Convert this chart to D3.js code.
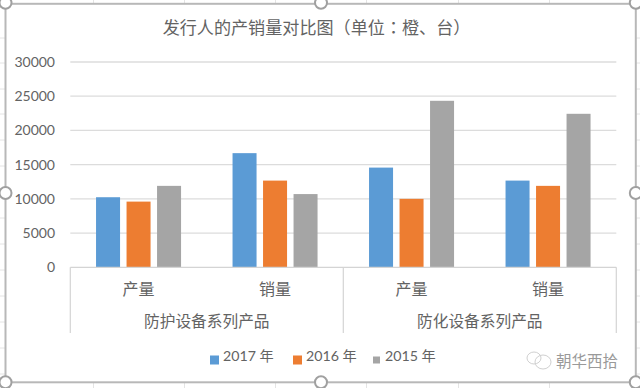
<!DOCTYPE html>
<html><head><meta charset="utf-8">
<script src="https://cdn.jsdelivr.net/npm/d3@7/dist/d3.min.js"></script>
<style>
html,body{margin:0;padding:0;background:#fff;overflow:hidden}
svg{display:block}
text{font-family:Lato,"Noto Sans CJK SC",sans-serif;fill:#636363}
</style></head><body>
<svg id="c" width="640" height="388"></svg>
<script>
const groups = ["防护设备系列产品","防化设备系列产品"];
const measures = ["产量","销量"];
const series = ["2017 年","2016 年","2015 年"];
const colors = ["#5B9BD5","#ED7D31","#A5A5A5"];
const v2017 = [10240,16680,14570,12670];
const v2016 = [9600,12670,10000,11900];
const v2015 = [11900,10700,24330,22430];
const yTicks = [0,5000,10000,15000,20000,25000,30000];
const titleParts = ["发行人的产销量对比图（单位","：","橙、台）"];
const watermark = "朝华西拾";
const sheetCols = [93.5,184.5,275.5,366.5,458.5,549.5];
const sheetRows = [38,63,89,114,140,166,192,218,244,270,296,322,348,374];

const W=640,H=388;
const svg=d3.select("#c");
const m={l:70.3,r:616.3,t:62,b:267.3};
const cats=groups.flatMap((g,i)=>measures.map(k=>i+"-"+k));
const x0=d3.scaleBand().domain(cats).range([m.l,m.r]);
const x1=d3.scaleBand().domain(series).range([0,x0.bandwidth()]).paddingInner(.213).paddingOuter(.844);
const y=d3.scaleLinear().domain([0,30000]).range([m.b,m.t]);
const vals=[v2017,v2016,v2015];

// worksheet behind the chart
const sheet=svg.append("g").attr("stroke","#e4e4e4").attr("stroke-width",1);
sheetCols.forEach(c=>{sheet.append("line").attr("x1",c).attr("x2",c).attr("y1",0).attr("y2",H)});
sheetRows.forEach(r=>{sheet.append("line").attr("x1",0).attr("x2",W).attr("y1",r).attr("y2",r)});

// chart area and selection frame
const f={l:5.5,t:3.8,r:635.8,b:382.3};
svg.append("rect").attr("x",f.l).attr("y",f.t).attr("width",f.r-f.l).attr("height",f.b-f.t)
  .attr("fill","#fff").attr("stroke","#b8b8b8").attr("stroke-width",2);

// gridlines
svg.append("g").selectAll("line").data(yTicks.slice(1)).join("line")
  .attr("x1",m.l).attr("x2",m.r).attr("y1",d=>y(d)).attr("y2",d=>y(d))
  .attr("stroke","#dcdcdc").attr("stroke-width",1.3);

// y labels
svg.append("g").selectAll("text").data(yTicks).join("text")
  .attr("x",55).attr("y",d=>y(d)+5).attr("text-anchor","end").attr("font-size",14).text(d=>d);

// bars
series.forEach((s,si)=>{
  svg.append("g").attr("fill",colors[si]).selectAll("rect").data(vals[si]).join("rect")
    .attr("x",(d,i)=>x0(cats[i])+x1(s)).attr("width",x1.bandwidth())
    .attr("y",d=>y(d)).attr("height",d=>y(0)-y(d));
});

// multi-level category axis
const axisBottom=333;
const ax=svg.append("g").attr("stroke","#d4d4d4").attr("stroke-width",1.2);
ax.append("line").attr("x1",m.l).attr("x2",m.r).attr("y1",y(0)).attr("y2",y(0));
[0,2,4].forEach(i=>{
  const xx=i<4?x0(cats[i]):m.r;
  ax.append("line").attr("x1",xx).attr("x2",xx).attr("y1",y(0)).attr("y2",axisBottom);
});
svg.append("g").selectAll("text").data(cats).join("text")
  .attr("x",d=>x0(d)+x0.bandwidth()/2).attr("y",295).attr("text-anchor","middle")
  .attr("font-size",16).text(d=>d.split("-")[1]);
svg.append("g").selectAll("text").data(groups).join("text")
  .attr("x",(d,i)=>x0(cats[i*2])+x0.bandwidth()).attr("y",327).attr("text-anchor","middle")
  .attr("font-size",15.7).text(d=>d);

// legend
const lx=[210,293,372], lsw=[9,9,7];
series.forEach((s,i)=>{
  svg.append("rect").attr("x",lx[i]+(9-lsw[i])/2).attr("y",355.5+(9-lsw[i])/2).attr("width",lsw[i]).attr("height",lsw[i]).attr("fill",colors[i]);
  svg.append("text").attr("x",lx[i]+13).attr("y",360.5).attr("font-size",14.2).text(s);
});

// title
const t=svg.append("text").attr("x",316.5).attr("y",34).attr("text-anchor","middle").attr("font-size",17.1);
titleParts.forEach((p,i)=>t.append("tspan").style("font-family",i===1?'"Noto Sans CJK TC"':null).text(p));

// selection handles
const hx=[f.l,321,f.r],hy=[f.t-1,193,f.b];
hx.forEach((a,i)=>hy.forEach((b,j)=>{
  if(i===1&&j===1)return;
  svg.append("circle").attr("cx",a).attr("cy",b).attr("r",6).attr("fill","#fff").attr("stroke","#a0a0a0").attr("stroke-width",2);
}));

// watermark
const wm=svg.append("g").attr("fill","none").attr("stroke","#d0d0d0").attr("stroke-width",1);
wm.append("ellipse").attr("cx",534).attr("cy",358).attr("rx",7).attr("ry",6);
wm.append("ellipse").attr("cx",543).attr("cy",362).attr("rx",8).attr("ry",7);
svg.append("text").attr("x",556).attr("y",367).attr("font-size",15.5).style("fill","#9a9a9a").text(watermark);
</script>
</body></html>
